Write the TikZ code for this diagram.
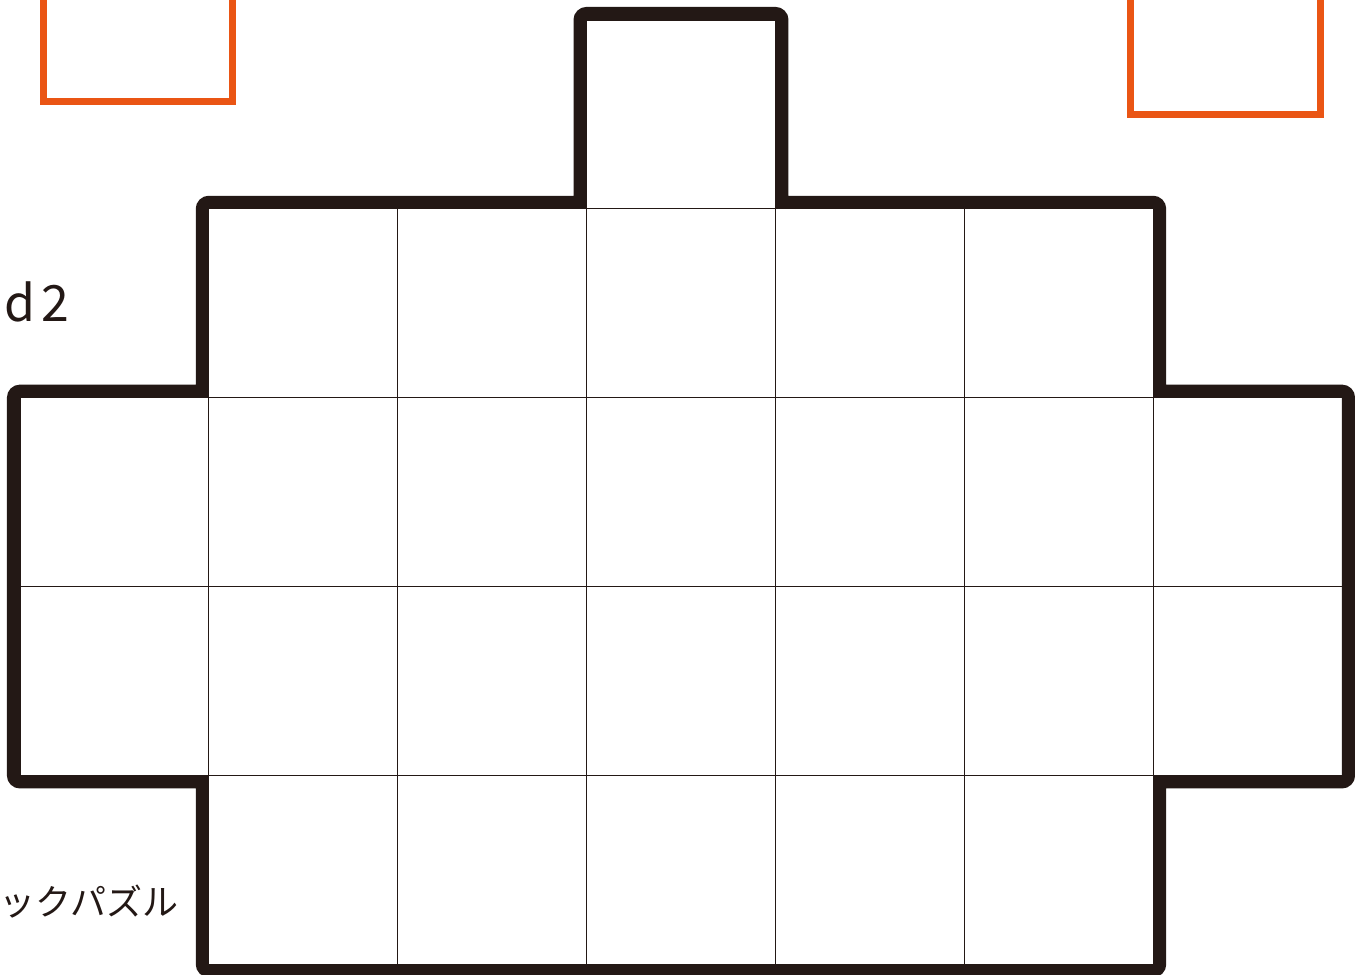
\documentclass[tikz,border=0pt]{standalone}
\usepackage{fontspec}
\newfontfamily\jpfont{Noto Sans CJK JP}
\definecolor{inkblack}{RGB}{35,24,21}
\definecolor{markorange}{RGB}{234,85,20}
\begin{document}
\begin{tikzpicture}[x=188.857pt,y=188.857pt,
  gridline/.style={draw=inkblack,line width=0.9pt},
  outline/.style={draw=inkblack,line width=13pt,line join=miter},
  markbox/.style={draw=markorange,line width=7pt},
  label/.style={inner sep=0pt,outer sep=0pt,text=inkblack}]
\pgfmathsetmacro{\d}{0.034418}
\useasboundingbox (-0.1059,-0.0567) rectangle (7.0742,5.1059);
% orange boxes
\draw[markbox] (0.1244,5.4) -- (0.1244,4.5686) -- (1.1252,4.5686) -- (1.1252,5.4);
\draw[markbox] (5.8801,5.4) -- (5.8801,4.4997) -- (6.8836,4.4997) -- (6.8836,5.4);
% grid cells
\foreach \i in {1,...,5} {\draw[gridline] (\i,0) rectangle ++(1,1);}
\foreach \i in {0,...,6} {\draw[gridline] (\i,1) rectangle ++(1,1);
                         \draw[gridline] (\i,2) rectangle ++(1,1);}
\foreach \i in {1,...,5} {\draw[gridline] (\i,3) rectangle ++(1,1);}
\draw[gridline] (3,4) rectangle ++(1,1);
% outline
\draw[outline] ({3-\d},{4+\d})
  -- ({3-\d},5) arc[start angle=180,end angle=90,radius=6.5pt]
  -- (4,{5+\d}) arc[start angle=90,end angle=0,radius=6.5pt]
  -- ({4+\d},{4+\d})
  -- (6,{4+\d}) arc[start angle=90,end angle=0,radius=6.5pt]
  -- ({6+\d},{3+\d})
  -- (7,{3+\d}) arc[start angle=90,end angle=0,radius=6.5pt]
  -- ({7+\d},1) arc[start angle=0,end angle=-90,radius=6.5pt]
  -- ({6+\d},{1-\d})
  -- ({6+\d},0) arc[start angle=0,end angle=-90,radius=6.5pt]
  -- (1,{-\d}) arc[start angle=-90,end angle=-180,radius=6.5pt]
  -- ({1-\d},{1-\d})
  -- (0,{1-\d}) arc[start angle=-90,end angle=-180,radius=6.5pt]
  -- ({-\d},3) arc[start angle=180,end angle=90,radius=6.5pt]
  -- ({1-\d},{3+\d})
  -- ({1-\d},4) arc[start angle=180,end angle=90,radius=6.5pt]
  -- cycle;
% texts
\node[label,anchor=base west,font=\jpfont\fontsize{50}{50}\selectfont] (d2) at (-0.082,3.401) {d\kern6pt 2};
\node[label,anchor=base east,font=\jpfont\fontsize{36}{36}\selectfont] (jp) at (0.8366,0.2557) {ックパズル};
\end{tikzpicture}
\end{document}
